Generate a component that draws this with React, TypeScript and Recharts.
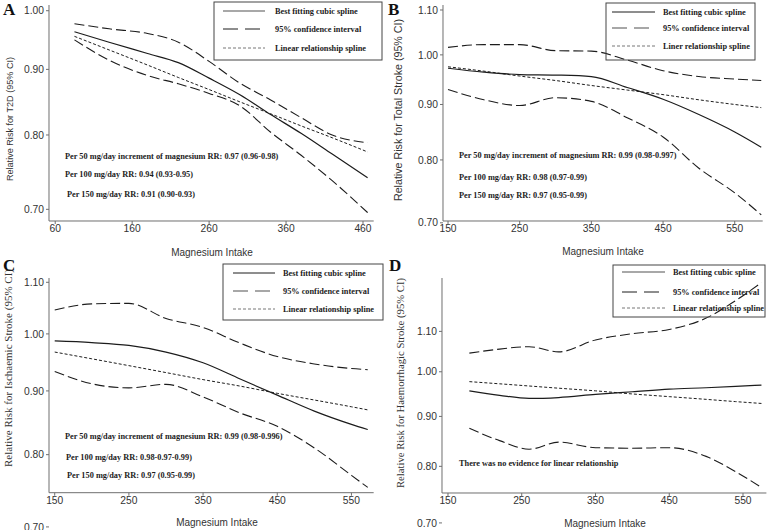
import { LineChart, Line, XAxis, YAxis } from "recharts"

const SANS = '"Liberation Sans", Arial, sans-serif'
const SERIF = '"Liberation Serif", "Times New Roman", serif'

// A: type 2 diabetes
const xA = [85, 130, 180, 220, 260, 300, 340, 380, 420, 466]
const bestA = [0.963, 0.945, 0.926, 0.911, 0.886, 0.86, 0.83, 0.802, 0.773, 0.741]
const upperA = [0.977, 0.968, 0.96, 0.945, 0.913, 0.878, 0.852, 0.825, 0.8, 0.789]
const lowerA = [0.949, 0.915, 0.89, 0.877, 0.862, 0.843, 0.804, 0.771, 0.737, 0.696]
const linearA = [0.955, 0.932, 0.907, 0.887, 0.868, 0.849, 0.831, 0.813, 0.796, 0.776]

// B: total stroke
const xB = [150, 200, 250, 300, 350, 400, 450, 500, 550, 587]
const bestB = [0.972, 0.964, 0.959, 0.958, 0.955, 0.933, 0.91, 0.881, 0.849, 0.822]
const upperB = [1.016, 1.022, 1.022, 1.009, 1.008, 0.989, 0.967, 0.955, 0.95, 0.947]
const lowerB = [0.929, 0.909, 0.898, 0.913, 0.906, 0.875, 0.84, 0.786, 0.746, 0.712]
const linearB = [0.975, 0.966, 0.956, 0.947, 0.937, 0.928, 0.919, 0.909, 0.9, 0.894]

// C: ischaemic stroke
const xC = [150, 200, 250, 300, 350, 400, 450, 500, 550, 572]
const bestC = [0.987, 0.984, 0.979, 0.967, 0.948, 0.92, 0.893, 0.867, 0.846, 0.838]
const upperC = [1.045, 1.057, 1.058, 1.029, 1.012, 0.983, 0.959, 0.946, 0.938, 0.936]
const lowerC = [0.933, 0.912, 0.905, 0.911, 0.89, 0.864, 0.843, 0.81, 0.77, 0.753]
const linearC = [0.967, 0.955, 0.943, 0.931, 0.919, 0.908, 0.896, 0.885, 0.874, 0.869]

// D: haemorrhagic stroke
const xD = [179, 220, 260, 300, 350, 400, 450, 500, 540, 575]
const bestD = [0.956, 0.946, 0.939, 0.941, 0.948, 0.954, 0.96, 0.963, 0.966, 0.969]
const upperD = [1.045, 1.055, 1.061, 1.048, 1.078, 1.094, 1.105, 1.135, 1.183, 1.234]
const lowerD = [0.875, 0.85, 0.833, 0.847, 0.836, 0.835, 0.836, 0.819, 0.79, 0.761]
const linearD = [0.977, 0.972, 0.967, 0.962, 0.956, 0.949, 0.943, 0.937, 0.932, 0.928]

const xTicksA = [60, 160, 260, 360, 460]
const xTicksBCD = [150, 250, 350, 450, 550]
const yTicksA = [0.7, 0.8, 0.9, 1.0]
const yTicksBCD = [0.7, 0.8, 0.9, 1.0, 1.1]

const legendA = ["Best fitting cubic spline", "95% confidence interval", "Linear relationship spline"]
const legendB = ["Best fitting cubic spline", "95% confidence interval", "Liner relationship spline"]

const notesA = [
  "Per 50 mg/day increment of magnesium RR: 0.97 (0.96-0.98)",
  "Per 100 mg/day RR: 0.94 (0.93-0.95)",
  "Per 150 mg/day RR: 0.91 (0.90-0.93)",
]
const notesB = [
  "Per 50 mg/day increment of magnesium RR: 0.99 (0.98-0.997)",
  "Per 100 mg/day RR: 0.98 (0.97-0.99)",
  "Per 150 mg/day RR: 0.97 (0.95-0.99)",
]
const notesC = [
  "Per 50 mg/day increment of magnesium RR: 0.99 (0.98-0.996)",
  "Per 100 mg/day RR: 0.98-0.97-0.99)",
  "Per 150 mg/day RR: 0.97 (0.95-0.99)",
]
const notesD = ["There was no evidence for linear relationship"]

const rows = (xs, best, upper, lower, linear) =>
  xs.map((x, i) => ({ x, best: best[i], upper: upper[i], lower: lower[i], linear: linear[i] }))

const panels = [
  { key: "A", box: [49.3, 5, 374, 221], xDomain: [51.9, 473.9], yDomain: [0.6855, 1.0103], xTicks: xTicksA, yTicks: yTicksA, data: rows(xA, bestA, upperA, lowerA, linearA) },
  { key: "B", box: [443.3, 5, 763, 221], xDomain: [143, 589], yDomain: [0.7027, 1.1117], xTicks: xTicksBCD, yTicks: yTicksBCD, data: rows(xB, bestB, upperB, lowerB, linearB) },
  { key: "C", box: [49.3, 278, 374, 492.7], xDomain: [142.3, 580], yDomain: [0.7457, 1.1088], xTicks: xTicksBCD, yTicks: yTicksBCD, data: rows(xC, bestC, upperC, lowerC, linearC) },
  { key: "D", box: [442.3, 278.3, 766.7, 493.3], xDomain: [141.9, 581.7], yDomain: [0.7512, 1.2477], xTicks: xTicksBCD, yTicks: yTicksBCD, data: rows(xD, bestD, upperD, lowerD, linearD) },
]

const AXIS = "#6e6e6e"
const INK = "#1c1c1c"
const tickStyle = { fontSize: 10.3, fill: "#333", fontFamily: SANS }

function Panel({ p }) {
  const [L, T, R, B] = p.box
  const W = R - L + 56
  const H = B - T + 46
  return (
    <div style={{ position: "absolute", left: L - 50, top: T - 6 }}>
      <LineChart width={W} height={H} data={p.data} margin={{ top: 6, right: 6, bottom: 0, left: 0 }}>
        <XAxis
          dataKey="x"
          type="number"
          domain={p.xDomain}
          allowDataOverflow
          ticks={p.xTicks}
          interval={0}
          height={40}
          tickSize={3}
          tickMargin={1}
          stroke={AXIS}
          tick={tickStyle}
        />
        <YAxis
          type="number"
          scale="log"
          domain={p.yDomain}
          allowDataOverflow
          ticks={p.yTicks}
          interval={0}
          width={50}
          tickSize={3}
          tickMargin={2}
          stroke={AXIS}
          tick={tickStyle}
          tickFormatter={(v) => v.toFixed(2)}
        />
        <Line type="monotone" dataKey="upper" stroke={INK} strokeWidth={1.1} strokeDasharray="10 4" dot={false} isAnimationActive={false} />
        <Line type="monotone" dataKey="lower" stroke={INK} strokeWidth={1.1} strokeDasharray="10 4" dot={false} isAnimationActive={false} />
        <Line type="monotone" dataKey="linear" stroke={INK} strokeWidth={1} strokeDasharray="3 2" dot={false} isAnimationActive={false} />
        <Line type="monotone" dataKey="best" stroke={INK} strokeWidth={1.2} dot={false} isAnimationActive={false} />
      </LineChart>
    </div>
  )
}

// legend boxes: [left, top, width, height], sample x1, x2, text x, row ys, gray best-fit sample?
const legends = [
  { rect: [214, 2, 168, 58], s: [223, 265], tx: 275, ys: [11, 29, 48], labels: legendA, grayBest: true },
  { rect: [606, 3, 149, 57], s: [612, 655], tx: 663, ys: [12, 28, 46], labels: legendB, grayBest: false },
  { rect: [223, 264, 160, 56], s: [233, 275], tx: 283, ys: [273, 291, 309], labels: legendA, grayBest: false },
  { rect: [613, 265, 152, 52], s: [622, 665], tx: 673, ys: [272, 292, 308], labels: legendA, grayBest: true },
]

function Legend({ g }) {
  const [x, y, w, h] = g.rect
  const [x1, x2] = g.s
  return (
    <g>
      <rect x={x} y={y} width={w} height={h} fill="none" stroke="#444" strokeWidth={1} />
      <line x1={x1} x2={x2} y1={g.ys[0]} y2={g.ys[0]} stroke={g.grayBest ? "#a8a8a8" : INK} strokeWidth={g.grayBest ? 2 : 1} />
      <line x1={x1} x2={x2} y1={g.ys[1]} y2={g.ys[1]} stroke={g.grayBest ? INK : "#8a8a8a"} strokeWidth={g.grayBest ? 1 : 1.5} strokeDasharray="15 7" />
      <line x1={x1} x2={x2} y1={g.ys[2]} y2={g.ys[2]} stroke="#777" strokeWidth={1} strokeDasharray="3 2" />
      {g.labels.map((t, i) => (
        <text key={i} x={g.tx} y={g.ys[i]} dominantBaseline="central" fontFamily={SERIF} fontWeight="bold" fontSize={8.3} fill={INK}>
          {t}
        </text>
      ))}
    </g>
  )
}

const notes = [
  { x: [65, 65, 67], y: [156, 174, 194], t: notesA },
  { x: [459, 459, 459], y: [155, 177, 195], t: notesB },
  { x: [65, 66, 67], y: [436, 457, 475], t: notesC },
  { x: [459], y: [463], t: notesD },
]

const yLabels = [
  { x: 10, y: 119, t: "Relative Risk for T2D (95% CI)", f: SANS, s: 9.1 },
  { x: 398, y: 110, t: "Relative Risk for Total Stroke (95% CI)", f: SANS, s: 10.7 },
  { x: 8, y: 368, t: "Relative Risk for Ischaemic Stroke (95% CI)", f: SERIF, s: 11 },
  { x: 400, y: 383, t: "Relative Risk for Haemorrhagic Stroke (95% CI)", f: SERIF, s: 10.7 },
]

const xLabels = [
  [212, 252],
  [603, 251],
  [217, 522],
  [605, 523],
]

const letters = [
  ["A", 3, 15],
  ["B", 388, 15],
  ["C", 3, 271],
  ["D", 389, 271],
]

export default function App() {
  return (
    <div style={{ position: "absolute", left: 0, top: 0, width: 769, height: 530, background: "#fff", overflow: "hidden" }}>
      {panels.map((p) => (
        <Panel key={p.key} p={p} />
      ))}
      <svg width={769} height={530} style={{ position: "absolute", left: 0, top: 0, pointerEvents: "none" }}>
        {legends.map((g, i) => (
          <Legend key={i} g={g} />
        ))}
        {notes.map((n, i) =>
          n.t.map((t, j) => (
            <text key={i + "-" + j} x={n.x[j]} y={n.y[j]} dominantBaseline="central" fontFamily={SERIF} fontWeight="bold" fontSize={8.3} fill={INK}>
              {t}
            </text>
          ))
        )}
        {yLabels.map((l, i) => (
          <text key={i} x={l.x} y={l.y} textAnchor="middle" dominantBaseline="central" fontFamily={l.f} fontSize={l.s} fill="#333" transform={`rotate(-90 ${l.x} ${l.y})`}>
            {l.t}
          </text>
        ))}
        {xLabels.map(([x, y], i) => (
          <text key={i} x={x} y={y} textAnchor="middle" dominantBaseline="central" fontFamily={SANS} fontSize={10} fill="#333">
            Magnesium Intake
          </text>
        ))}
        {letters.map(([c, x, y]) => (
          <text key={c} x={x} y={y} fontFamily={SERIF} fontWeight="bold" fontSize={17} fill="#111">
            {c}
          </text>
        ))}
      </svg>
    </div>
  )
}
